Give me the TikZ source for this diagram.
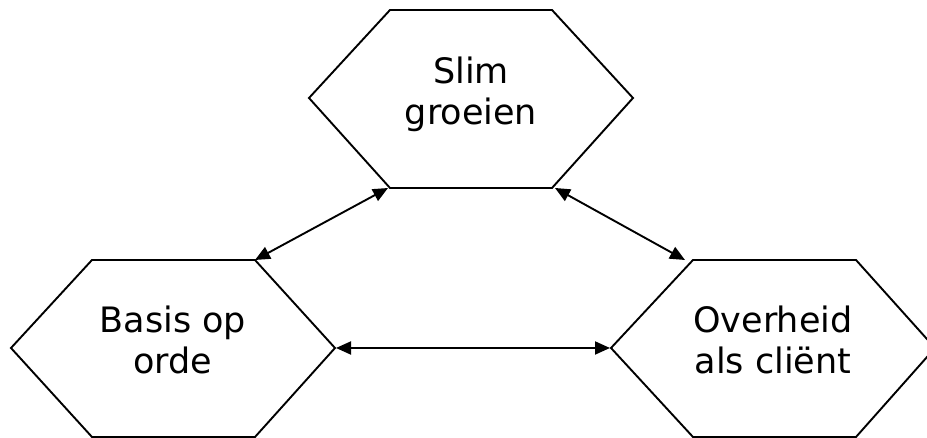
\documentclass[tikz,border=0pt]{standalone}
\usepackage{fontspec}
\setmainfont{DejaVu Sans}
\usetikzlibrary{arrows.meta}
\tikzset{hx/.style  = {line width=1.9pt, line join=miter},
         txt/.style = {align=center, inner sep=0pt, font=\fontsize{35}{41}\selectfont},
         ar/.style  = {line width=1.9pt, {Triangle[length=15pt,width=13pt]}-{Triangle[length=15pt,width=13pt]}}}

\begin{document}
\begin{tikzpicture}[x=1pt, y=1pt]
    \useasboundingbox (0,0) rectangle (927,438);
    % hexagons
    \draw[hx] (309,340) -- (390,428) -- (552,428) -- (633,340) -- (552,250) -- (390,250) -- cycle;
    \draw[hx] (11,90)   -- (92,178)  -- (255,178) -- (335,90)  -- (255,1)   -- (92,1)    -- cycle;
    \draw[hx] (611,90)  -- (693,178) -- (856,178) -- (935,90)  -- (856,1)   -- (693,1)   -- cycle;
    \node[txt] (slim)  at (471,344)  {Slim\\groeien};
    \node[txt] (basis) at (173,98) {Basis op\\orde};
    \node[txt] (over)  at (773,98) {Overheid\\als cliënt};
    % corners
    \coordinate (slim-sw)  at (388,250); \coordinate (slim-se)  at (555,250);
    \coordinate (basis-ne) at (255,178); \coordinate (basis-e)  at (336,90);
    \coordinate (over-nw)  at (685,178); \coordinate (over-w)   at (610,90);
    \draw[ar] (slim-sw) -- (basis-ne);
    \draw[ar] (slim-se) -- (over-nw);
    \draw[ar] (basis-e) -- (over-w);
\end{tikzpicture}
\end{document}
